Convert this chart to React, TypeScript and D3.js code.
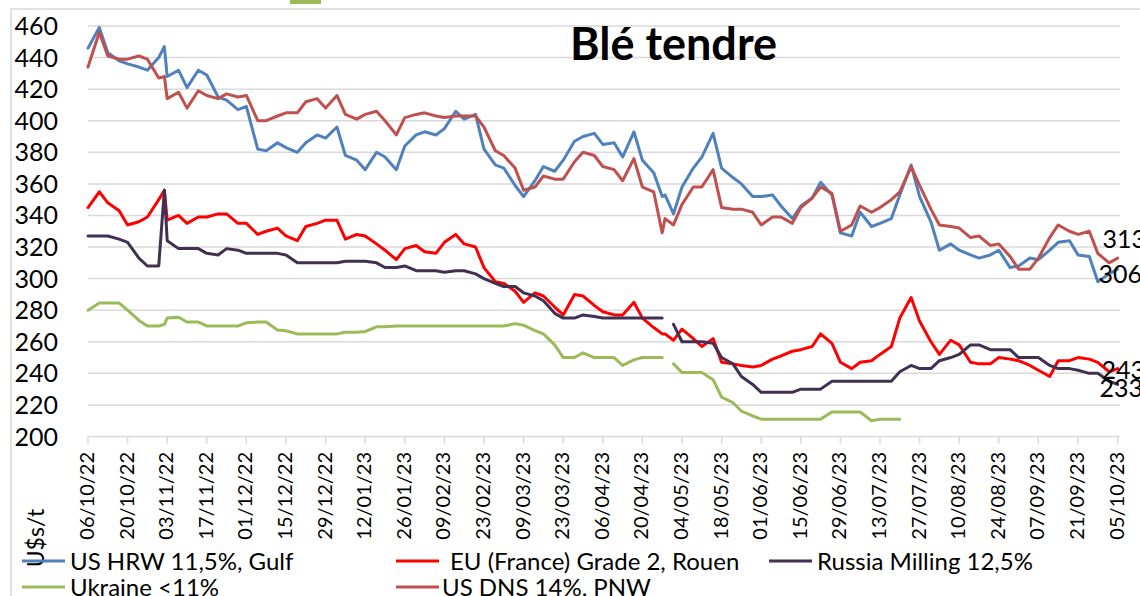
import { useEffect, useRef } from 'react';
import * as d3 from 'd3';

// twice-weekly readings (plus 02/11 spike and 28/04 gap)
const dates = [
  '06/10/22', '10/10/22', '13/10/22', '17/10/22', '20/10/22', '24/10/22', '27/10/22', '31/10/22', '02/11/22', '03/11/22',
  '07/11/22', '10/11/22', '14/11/22', '17/11/22', '21/11/22', '24/11/22', '28/11/22', '01/12/22', '05/12/22', '08/12/22',
  '12/12/22', '15/12/22', '19/12/22', '22/12/22', '26/12/22', '29/12/22', '02/01/23', '05/01/23', '09/01/23', '12/01/23',
  '16/01/23', '19/01/23', '23/01/23', '26/01/23', '30/01/23', '02/02/23', '06/02/23', '09/02/23', '13/02/23', '16/02/23',
  '20/02/23', '23/02/23', '27/02/23', '02/03/23', '06/03/23', '09/03/23', '13/03/23', '16/03/23', '20/03/23', '23/03/23',
  '27/03/23', '30/03/23', '03/04/23', '06/04/23', '10/04/23', '13/04/23', '17/04/23', '20/04/23', '24/04/23', '27/04/23',
  '28/04/23', '01/05/23', '04/05/23', '08/05/23', '11/05/23', '15/05/23', '18/05/23', '22/05/23', '25/05/23', '29/05/23',
  '01/06/23', '05/06/23', '08/06/23', '12/06/23', '15/06/23', '19/06/23', '22/06/23', '26/06/23', '29/06/23', '03/07/23',
  '06/07/23', '10/07/23', '13/07/23', '17/07/23', '20/07/23', '24/07/23', '27/07/23', '31/07/23', '03/08/23', '07/08/23',
  '10/08/23', '14/08/23', '17/08/23', '21/08/23', '24/08/23', '28/08/23', '31/08/23', '04/09/23', '07/09/23', '11/09/23',
  '14/09/23', '18/09/23', '21/09/23', '25/09/23', '28/09/23', '02/10/23', '05/10/23',
];

const hrwGulf = [
  446, 459, 443, 438, 436, 434, 432, 440, 447, 428,
  432, 421, 432, 429, 415, 413, 407, 409, 382, 381,
  386, 383, 380, 386, 391, 389, 396, 378, 375, 369,
  380, 377, 369, 384, 391, 393, 391, 395, 406, 401,
  404, 382, 372, 370, 359, 352, 362, 371, 368, 375,
  387, 390, 392, 385, 386, 377, 393, 375, 367, 352,
  353, 341, 358, 370, 377, 392, 370, 364, 360, 352,
  352, 353, 346, 338, 346, 351, 361, 353, 329, 327,
  342, 333, 335, 338, 353, 372, 352, 336, 318, 322,
  318, 315, 313, 315, 318, 307, 308, 313, 312, 318,
  323, 324, 315, 314, 298, 303, 306,
];

const euRouen = [
  345, 355, 348, 343, 334, 336, 339, 350, 356, 337,
  340, 335, 339, 339, 341, 341, 335, 335, 328, 330,
  332, 327, 324, 333, 335, 337, 337, 325, 328, 327,
  322, 318, 312, 319, 321, 317, 316, 323, 328, 322,
  320, 307, 298, 297, 292, 285, 291, 289, 282, 277,
  290, 289, 283, 279, 277, 277, 285, 275, 269, 265,
  265, 261, 268, 262, 257, 262, 247, 246, 245, 244,
  245, 249, 251, 254, 255, 257, 265, 259, 247, 243,
  247, 248, 252, 257, 275, 288, 273, 260, 252, 261,
  258, 247, 246, 246, 250, 249, 248, 245, 242, 238,
  248, 248, 250, 249, 247, 241, 243,
];

const russiaMilling = [
  327, 327, 327, 325, 323, 313, 308, 308, 356, 324,
  319, 319, 319, 316, 315, 319, 318, 316, 316, 316,
  316, 315, 310, 310, 310, 310, 310, 311, 311, 311,
  310, 307, 307, 308, 305, 305, 305, 304, 305, 305,
  303, 300, 297, 295, 295, 291, 289, 286, 278, 275,
  275, 277, 276, 275, 275, 275, 275, 275, 275, 275,
  null, 271, 260, 260, 260, 259, 250, 246, 238, 233,
  228, 228, 228, 228, 230, 230, 230, 235, 235, 235,
  235, 235, 235, 235, 241, 245, 243, 243, 248, 250,
  252, 258, 258, 255, 255, 255, 250, 250, 250, 245,
  243, 243, 242, 240, 240, 235, 233,
];

const ukraine = [
  280, 284.5, 284.5, 284.5, 280, 273.5, 270, 270, 271, 275,
  275.5, 272.5, 272.5, 270, 270, 270, 270, 272, 272.5, 272.5,
  267.5, 267, 265, 265, 265, 265, 265, 266, 266, 266.5,
  269.5, 269.5, 270, 270, 270, 270, 270, 270, 270, 270,
  270, 270, 270, 270, 271.5, 270.5, 267, 265, 258, 250,
  250, 253, 250, 250, 250, 245, 248.5, 250, 250, 250,
  null, 246, 240.5, 240.5, 240.5, 236, 225, 221.5, 216, 213,
  211, 211, 211, 211, 211, 211, 211, 215.5, 215.5, 215.5,
  215.5, 210, 211, 211, 211, null, null, null, null, null,
  null, null, null, null, null, null, null, null, null, null,
  null, null, null, null, null, null, null,
];

const dnsPnw = [
  434, 456, 441, 439, 439, 441, 439, 427, 428, 414,
  418, 408, 419, 416, 414, 417, 415, 416, 400, 400,
  403, 405, 405, 412, 414, 408, 416, 404, 401, 404,
  406, 400, 391, 402, 404, 405, 403, 402, 403, 403,
  403, 396, 381, 378, 370, 356, 358, 365, 363, 363,
  374, 380, 378, 371, 369, 362, 376, 358, 355, 329,
  338, 334, 347, 358, 358, 369, 345, 344, 344, 342,
  334, 339, 339, 335, 345, 351, 358, 354, 330, 334,
  346, 342, 345, 350, 355, 371, 359, 344, 334, 333,
  332, 326, 327, 321, 322, 314, 306, 306, 313, 326,
  334, 330, 328, 330, 316, 310, 313,
];

const yTicks = [200, 220, 240, 260, 280, 300, 320, 340, 360, 380, 400, 420, 440, 460];

const tickDates = [
  '06/10/22', '20/10/22', '03/11/22', '17/11/22', '01/12/22', '15/12/22', '29/12/22',
  '12/01/23', '26/01/23', '09/02/23', '23/02/23', '09/03/23', '23/03/23', '06/04/23',
  '20/04/23', '04/05/23', '18/05/23', '01/06/23', '15/06/23', '29/06/23', '13/07/23',
  '27/07/23', '10/08/23', '24/08/23', '07/09/23', '21/09/23', '05/10/23',
];

// Excel series order (drawing order)
const series = [
  { name: 'US HRW 11,5%, Gulf', values: hrwGulf, color: '#4f81bd' },
  { name: 'EU (France) Grade 2, Rouen', values: euRouen, color: '#ff0000' },
  { name: 'Russia Milling 12,5%', values: russiaMilling, color: '#403152' },
  { name: 'Ukraine <11%', values: ukraine, color: '#9bbb59' },
  { name: 'US DNS 14%, PNW', values: dnsPnw, color: '#c0504d' },
];

// legend slots: [lineX, y, textX]
const legendSlots = [
  [22, 561, 70],
  [396, 561, 450],
  [769, 561, 817],
  [22, 587, 70],
  [396, 587, 442],
];

// last-value labels: series index, dx, dy
const endLabels = [
  [4, -15, -19],
  [0, -19, 5],
  [1, -16, 1.5],
  [2, -18, 3.5],
];

const FONT = "Lato, 'DejaVu Sans', sans-serif";
const GRID = '#d9d9d9';

const App = () => {
  const svgRef = useRef<SVGSVGElement>(null);

  useEffect(() => {
    if (!svgRef.current) return;
    const svg = d3.select(svgRef.current);
    svg.selectAll('*').remove();

    const parse = d3.timeParse('%d/%m/%y');
    const days = dates.map(d => parse(d) as Date);

    const x = d3.scaleTime()
      .domain([days[0], days[days.length - 1]])
      .range([88, 1117.6]);
    const y = d3.scaleLinear().domain([200, 460]).range([436.5, 26]);

    svg.append('rect').attr('width', 1140).attr('height', 596).attr('fill', 'white');

    // bits of the chart above, cut off
    svg.append('rect').attr('x', 290).attr('y', 0).attr('width', 31).attr('height', 4).attr('fill', '#9bbb59');

    // chart area frame
    svg.append('path')
      .attr('d', 'M11,596V9H1140')
      .attr('fill', 'none')
      .attr('stroke', GRID)
      .attr('stroke-width', 1.5);

    // gridlines
    svg.append('g')
      .selectAll('line')
      .data(yTicks)
      .join('line')
      .attr('x1', 88)
      .attr('x2', 1120)
      .attr('y1', d => y(d))
      .attr('y2', d => y(d))
      .attr('stroke', GRID)
      .attr('stroke-width', 1.5);

    svg.append('g')
      .selectAll('text')
      .data(yTicks)
      .join('text')
      .attr('x', 58)
      .attr('y', d => y(d))
      .attr('dy', '0.36em')
      .attr('text-anchor', 'end')
      .attr('font-family', FONT)
      .attr('font-size', 25)
      .attr('fill', '#000')
      .text(d => d);

    // x ticks + labels
    const tickDays = tickDates.map(d => parse(d) as Date);
    svg.append('g')
      .selectAll('line')
      .data(tickDays)
      .join('line')
      .attr('x1', d => x(d))
      .attr('x2', d => x(d))
      .attr('y1', y(200))
      .attr('y2', y(200) + 7)
      .attr('stroke', GRID)
      .attr('stroke-width', 1.5);

    svg.append('g')
      .selectAll('text')
      .data(tickDays)
      .join('text')
      .attr('transform', d => `translate(${x(d) + 6},452) rotate(-90)`)
      .attr('text-anchor', 'end')
      .attr('font-family', FONT)
      .attr('font-size', 20)
      .attr('fill', '#000')
      .text((d, i) => tickDates[i]);

    // y axis title
    svg.append('text')
      .attr('transform', 'translate(44,538) rotate(-90)')
      .attr('text-anchor', 'middle')
      .attr('font-family', FONT)
      .attr('font-size', 23)
      .attr('fill', '#000')
      .text('U$s/t');

    // lines
    const line = d3.line<number | null>()
      .defined(d => d !== null)
      .x((d, i) => x(days[i]))
      .y(d => y(d as number));

    series.forEach(s => {
      svg.append('path')
        .datum(s.values)
        .attr('d', line)
        .attr('fill', 'none')
        .attr('stroke', s.color)
        .attr('stroke-width', 3)
        .attr('stroke-linejoin', 'round')
        .attr('stroke-linecap', 'round');
    });

    // end labels
    endLabels.forEach(([si, dx, dy]) => {
      const vals = series[si].values;
      const last = vals[vals.length - 1] as number;
      svg.append('text')
        .attr('x', x(days[days.length - 1]) + dx)
        .attr('y', y(last) + dy)
        .attr('dy', '0.36em')
        .attr('font-family', FONT)
        .attr('font-size', 25)
        .attr('fill', '#000')
        .text(last);
    });

    // title
    svg.append('text')
      .attr('x', 570)
      .attr('y', 60)
      .attr('font-family', FONT)
      .attr('font-weight', 700)
      .attr('font-size', 45)
      .attr('fill', '#000')
      .text('Blé tendre');

    // legend
    const legend = svg.append('g');
    series.forEach((s, i) => {
      const [lx, ly, tx] = legendSlots[i];
      legend.append('line')
        .attr('x1', lx)
        .attr('x2', lx + 43)
        .attr('y1', ly)
        .attr('y2', ly)
        .attr('stroke', s.color)
        .attr('stroke-width', 3);
      legend.append('text')
        .attr('x', tx)
        .attr('y', ly)
        .attr('dy', '0.36em')
        .attr('font-family', FONT)
        .attr('font-size', 24)
        .attr('fill', '#000')
        .text(s.name);
    });
  }, []);

  return (
    <svg
      ref={svgRef}
      width={1140}
      height={596}
      style={{ position: 'absolute', left: 0, top: 0, display: 'block' }}
    />
  );
};

export default App;
